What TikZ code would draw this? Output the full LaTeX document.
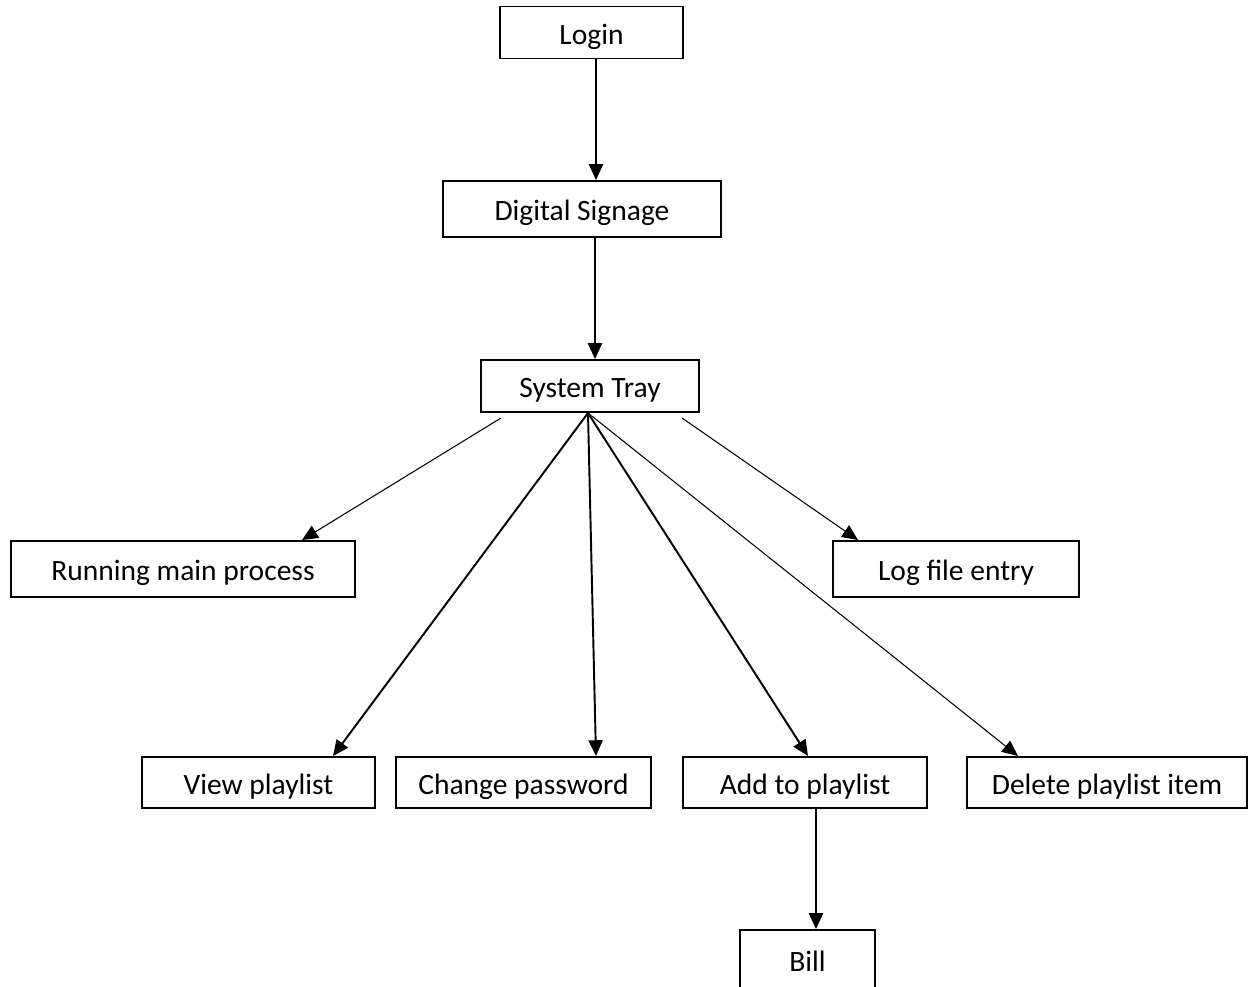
\documentclass[tikz,border=0pt]{standalone}
\usepackage{fontspec}
\setmainfont{Carlito}
\usetikzlibrary{arrows.meta}

\tikzset{boite/.style = {draw, line width = 1.1pt, inner sep = 0pt,
                         minimum width = #1, minimum height = 1.04cm,
                         text height = 13.6pt, text depth = 0pt,
                         font = \fontsize{16.8}{20}\selectfont},
         boite/.default = 4cm,
         fleche/.style = {line width = 1.1pt, -{Triangle[length=9pt, width=8pt]}},
         fleche fine/.style = {fleche, line width = 0.6pt}
        }

\begin{document}
\begin{tikzpicture}[x=0.02cm, y=-0.02cm]
  \useasboundingbox (0,0) rectangle (1249,987);
  \node[boite=3.66cm] (login) at (591.5,32.5) {Login};
  \node[boite=5.56cm, minimum height=1.12cm] (ds) at (582,209) {Digital Signage};
  \node[boite=4.36cm] (tray) at (590,386) {System Tray};
  \node[boite=6.88cm, minimum height=1.12cm] (main) at (183,569) {Running main process};
  \node[boite=4.92cm, minimum height=1.12cm] (log) at (956,569) {Log file entry};
  \node[boite=4.66cm, minimum height=1.02cm] (view) at (258.5,782.5) {View playlist};
  \node[boite=5.1cm, minimum height=1.02cm] (pass) at (523.5,782.5) {Change password};
  \node[boite=4.88cm, minimum height=1.02cm] (add) at (805,782.5) {Add to playlist};
  \node[boite=5.6cm, minimum height=1.02cm] (del) at (1107,782.5) {Delete playlist item};
  \node[boite=2.7cm, minimum height=1.2cm] (bill) at (807.5,960) {Bill};

  % points de depart
  \coordinate (pied) at (588,413);
  \coordinate (gauche) at (501,418);
  \coordinate (droite) at (682,418);

  \draw[fleche] ([xshift=0.09cm]login.south) -- ([xshift=0.09cm]login.south |- ds.north);
  \draw[fleche] ([xshift=0.26cm]ds.south) -- ([xshift=0.26cm]ds.south |- tray.north);
  \draw[fleche fine] (gauche) -- ([xshift=2.38cm]main.north);
  \draw[fleche fine] (droite) -- ([xshift=-1.96cm]log.north);
  \draw[fleche] (pied) -- ([xshift=1.49cm]view.north);
  \draw[fleche] (pied) -- ([xshift=1.45cm]pass.north);
  \draw[fleche] (pied) -- ([xshift=0.06cm]add.north);
  \draw[fleche fine] (pied) -- ([xshift=-1.78cm]del.north);
  \draw[fleche] ([xshift=0.22cm]add.south) -- ([xshift=0.22cm]add.south |- bill.north);
\end{tikzpicture}
\end{document}
